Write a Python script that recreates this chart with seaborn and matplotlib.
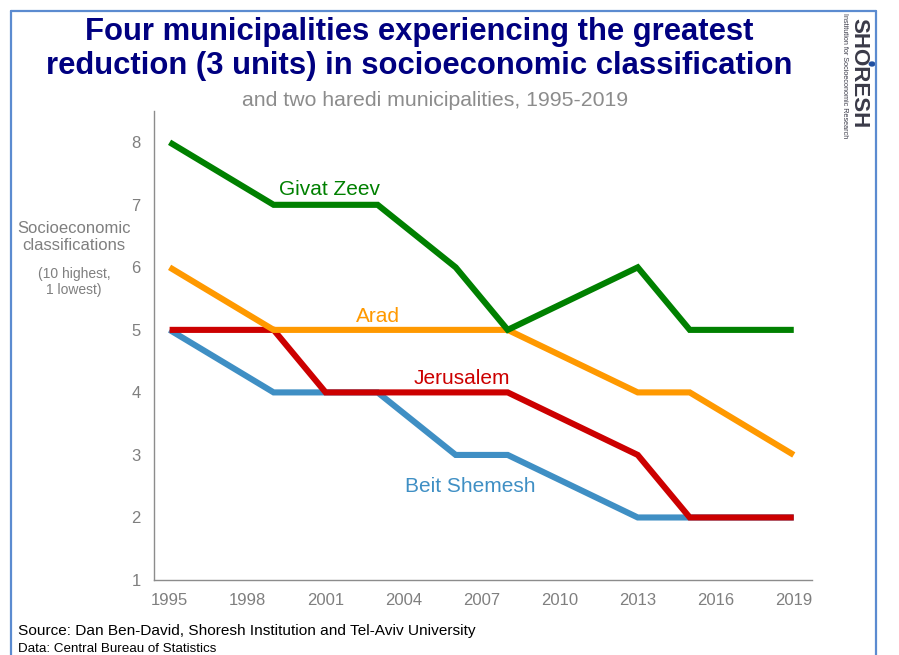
import matplotlib
matplotlib.use("Agg")
import matplotlib.pyplot as plt
import seaborn as sns
import pandas as pd
from matplotlib.patches import Circle
from matplotlib.lines import Line2D

# Socioeconomic classification by municipality (10 highest, 1 lowest)
years = [1995, 1999, 2001, 2003, 2006, 2008, 2013, 2015, 2019]
givat_zeev = [8, 7, 7, 7, 6, 5, 6, 5, 5]
arad = [6, 5, 5, 5, 5, 5, 4, 4, 3]
jerusalem = [5, 5, 4, 4, 4, 4, 3, 2, 2]
beit_shemesh = [5, 4, 4, 4, 3, 3, 2, 2, 2]

municipalities = ["Beit Shemesh", "Jerusalem", "Arad", "Givat Zeev"]
series = {
    "Givat Zeev": givat_zeev,
    "Arad": arad,
    "Jerusalem": jerusalem,
    "Beit Shemesh": beit_shemesh,
}
colors = {
    "Givat Zeev": "#008000",
    "Arad": "#FF9900",
    "Jerusalem": "#CC0000",
    "Beit Shemesh": "#3F8FC4",
}
x_ticks = [1995, 1998, 2001, 2004, 2007, 2010, 2013, 2016, 2019]
y_ticks = [1, 2, 3, 4, 5, 6, 7, 8]

df = pd.DataFrame(
    [(name, y, v) for name in municipalities for y, v in zip(years, series[name])],
    columns=["municipality", "year", "classification"],
)

sns.set_theme(style="white")
plt.rcParams["font.family"] = ["Liberation Sans", "DejaVu Sans"]

fig = plt.figure(figsize=(8.99, 6.55), dpi=100)
ax = fig.add_axes([0.1713, 0.1145, 0.7319, 0.716])

sns.lineplot(
    data=df, x="year", y="classification", hue="municipality",
    hue_order=municipalities, palette=colors, linewidth=4.4,
    legend=False, ax=ax, sort=False, estimator=None,
)
for line in ax.get_lines():
    line.set_solid_joinstyle("miter")
    line.set_solid_capstyle("butt")

ax.set_xlim(1994.4, 2019.7)
ax.set_ylim(1, 8.5)
ax.set_xticks(x_ticks)
ax.set_yticks(y_ticks)
ax.set_xlabel("")
ax.set_ylabel("")

grey = "#7f7f7f"
for s in ["top", "right"]:
    ax.spines[s].set_visible(False)
for s in ["left", "bottom"]:
    ax.spines[s].set_color("#8c8c8c")
    ax.spines[s].set_linewidth(1.0)
ax.tick_params(axis="both", direction="out", length=4.5, width=1,
               color="#8c8c8c", labelcolor=grey, labelsize=12)
ax.tick_params(axis="y", pad=5)
ax.tick_params(axis="x", pad=5)
ax.grid(False)

# Direct labels for each line
label_style = dict(fontsize=15, ha="center", va="center")
ax.text(2001.15, 7.25, "Givat Zeev", color=colors["Givat Zeev"], **label_style)
ax.text(2003.0, 5.22, "Arad", color=colors["Arad"], **label_style)
ax.text(2006.25, 4.22, "Jerusalem", color=colors["Jerusalem"], **label_style)
ax.text(2006.55, 2.5, "Beit Shemesh", color=colors["Beit Shemesh"], **label_style)

# Titles
fig.text(0.4667, 1 - 49 / 655, "Four municipalities experiencing the greatest\nreduction (3 units) in socioeconomic classification",
         ha="center", va="center", fontsize=22.3, fontweight="bold",
         color="#000080", linespacing=1.17)
fig.text(0.4839, 1 - 101 / 655, "and two haredi municipalities, 1995-2019",
         ha="center", va="center", fontsize=15.3, color="#8c8c8c")

# Y-axis description
fig.text(74 / 899, 1 - 237 / 655, "Socioeconomic\nclassifications",
         ha="center", va="center", fontsize=12, color=grey, linespacing=1.1)
fig.text(74 / 899, 1 - 282 / 655, "(10 highest,\n1 lowest)",
         ha="center", va="center", fontsize=10, color=grey, linespacing=1.15)

# Source notes
fig.text(18 / 899, 1 - 631 / 655, "Source: Dan Ben-David, Shoresh Institution and Tel-Aviv University",
         ha="left", va="center", fontsize=11.1, color="black")
fig.text(18 / 899, 1 - 649 / 655, "Data: Central Bureau of Statistics",
         ha="left", va="center", fontsize=9.6, color="black")

# Logo
fig.text(859 / 899, 1 - 73 / 655, "SHORESH", rotation=-90, ha="center", va="center",
         fontsize=16, fontweight="heavy", color="#3a3a48")
fig.text(844.5 / 899, 1 - 76 / 655, "Institution for Socioeconomic Research", rotation=-90,
         ha="center", va="center", fontsize=5.2, color="#3a3a48")
fig.patches.append(Circle((872 / 899, 1 - 64 / 655), 0.003, transform=fig.transFigure,
                          color="#1f4fa0", figure=fig))

# Slide frame
frame_color = "#5b8bd0"
fig.add_artist(Line2D([11 / 899, 11 / 899], [0, 1 - 11 / 655], color=frame_color, lw=1.6,
                      transform=fig.transFigure))
fig.add_artist(Line2D([11 / 899, 876 / 899], [1 - 11 / 655, 1 - 11 / 655], color=frame_color,
                      lw=1.6, transform=fig.transFigure))
fig.add_artist(Line2D([876 / 899, 876 / 899], [0, 1 - 11 / 655], color=frame_color, lw=1.6,
                      transform=fig.transFigure))

fig.savefig("out.png", dpi=100)
